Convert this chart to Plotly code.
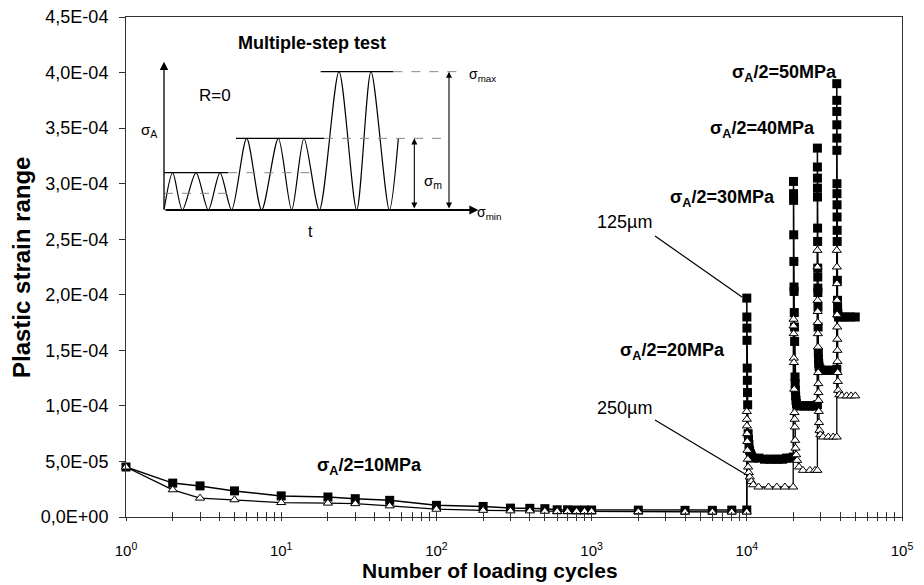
import plotly.graph_objects as go

# ---------------- data: 125 µm (filled squares) ----------------
cyc125_s10 = [1, 2, 3, 5, 10, 20, 30, 50, 100, 200, 300, 400, 500, 600, 700, 800, 900, 1000,
              2000, 4000, 6000, 8000, 10000]
eps125_s10 = [4.5e-5, 3.05e-5, 2.8e-5, 2.35e-5, 1.9e-5, 1.8e-5, 1.65e-5, 1.5e-5, 1.05e-5, 0.95e-5,
              0.8e-5, 0.78e-5, 0.75e-5, 0.65e-5, 0.65e-5, 0.63e-5, 0.63e-5, 0.63e-5,
              0.62e-5, 0.6e-5, 0.6e-5, 0.62e-5, 0.63e-5]
cyc125_s20 = [10000, 10010, 10020, 10030, 10060, 10080, 10100, 10130, 10200, 10260, 10330, 10420,
              10550, 10700, 11000, 12000, 13000, 14000, 15000, 16000, 17000, 18000, 19000, 20000]
eps125_s20 = [1.97e-4, 1.80e-4, 1.70e-4, 1.59e-4, 1.34e-4, 1.23e-4, 1.12e-4, 1.01e-4, 7.5e-5, 7.0e-5,
              6.5e-5, 6.0e-5, 5.7e-5, 5.5e-5, 5.3e-5, 5.3e-5, 5.2e-5, 5.2e-5, 5.2e-5, 5.2e-5,
              5.2e-5, 5.3e-5, 5.3e-5, 5.4e-5]
cyc125_s30 = [20000, 20010, 20020, 20060, 20100, 20150, 20170, 20230, 20280, 20330, 20450, 20500,
              20560, 20640, 20750, 20900, 21500, 22500, 23500, 24500, 25500, 26500, 27500, 28500]
eps125_s30 = [3.02e-4, 2.91e-4, 2.85e-4, 2.54e-4, 2.30e-4, 2.07e-4, 2.03e-4, 1.84e-4, 1.71e-4, 1.58e-4,
              1.26e-4, 1.20e-4, 1.14e-4, 1.09e-4, 1.05e-4, 1.02e-4, 1.0e-4, 1.0e-4, 1.0e-4, 1.0e-4,
              1.0e-4, 1.0e-4, 1.0e-4, 1.01e-4]
cyc125_s40 = [28500, 28510, 28520, 28530, 28540, 28580, 28600, 28640, 28660, 28690, 28710, 28750,
              28800, 28900, 28980, 29080, 29250, 29700, 31000, 32500, 34000, 35500, 37000, 38000]
eps125_s40 = [3.32e-4, 3.15e-4, 3.05e-4, 2.96e-4, 2.88e-4, 2.60e-4, 2.48e-4, 2.24e-4, 2.16e-4, 2.06e-4,
              2.02e-4, 1.89e-4, 1.71e-4, 1.48e-4, 1.42e-4, 1.38e-4, 1.35e-4, 1.33e-4, 1.32e-4, 1.32e-4,
              1.32e-4, 1.32e-4, 1.32e-4, 1.33e-4]
cyc125_s50 = [38000, 38010, 38020, 38030, 38040, 38060, 38100, 38120, 38140, 38170, 38200, 38230,
              38320, 38400, 38480, 38600, 39000, 41000, 43500, 46500, 50000]
eps125_s50 = [3.90e-4, 3.75e-4, 3.65e-4, 3.53e-4, 3.41e-4, 3.30e-4, 3.00e-4, 2.91e-4, 2.81e-4, 2.70e-4,
              2.58e-4, 2.48e-4, 2.13e-4, 1.95e-4, 1.88e-4, 1.83e-4, 1.80e-4, 1.80e-4, 1.80e-4, 1.80e-4,
              1.80e-4]

# ---------------- data: 250 µm (open triangles) ----------------
cyc250_s10 = [1, 2, 3, 5, 10, 20, 30, 50, 100, 200, 300, 400, 500, 600, 700, 800, 900, 1000,
              2000, 4000, 6000, 8000, 10000]
eps250_s10 = [4.5e-5, 2.45e-5, 1.7e-5, 1.55e-5, 1.3e-5, 1.25e-5, 1.2e-5, 1.0e-5, 0.7e-5, 0.6e-5,
              0.55e-5, 0.55e-5, 0.52e-5, 0.5e-5, 0.5e-5, 0.5e-5, 0.5e-5, 0.5e-5,
              0.48e-5, 0.45e-5, 0.45e-5, 0.45e-5, 0.45e-5]
cyc250_s20 = [10000, 10010, 10020, 10040, 10070, 10100, 10150, 10200, 10300, 10450, 10700, 11000,
              11900, 13800, 15600, 17600, 19900]
eps250_s20 = [9.5e-5, 8.8e-5, 8.2e-5, 7.5e-5, 6.8e-5, 6.0e-5, 5.2e-5, 4.5e-5, 4.0e-5, 3.6e-5, 3.2e-5,
              2.9e-5, 2.7e-5, 2.7e-5, 2.7e-5, 2.7e-5, 2.7e-5]
cyc250_s30 = [20000, 20020, 20040, 20100, 20120, 20200, 20300, 20350, 20400, 20500, 20600, 20800,
              21100, 21700, 23000, 25500, 27500, 28500]
eps250_s30 = [1.78e-4, 1.72e-4, 1.65e-4, 1.43e-4, 1.39e-4, 1.15e-4, 9.4e-5, 8.8e-5, 8.1e-5, 6.9e-5,
              6.2e-5, 5.6e-5, 5.1e-5, 4.5e-5, 4.2e-5, 4.2e-5, 4.2e-5, 4.2e-5]
cyc250_s40 = [28500, 28550, 28600, 28630, 28660, 28700, 28750, 28850, 28900, 28950, 29000, 29100,
              29200, 29400, 29800, 31000, 33500, 36000, 38000]
eps250_s40 = [2.40e-4, 2.25e-4, 1.95e-4, 1.85e-4, 1.75e-4, 1.65e-4, 1.53e-4, 1.30e-4, 1.20e-4, 1.12e-4,
              1.05e-4, 9.5e-5, 8.5e-5, 7.8e-5, 7.4e-5, 7.2e-5, 7.2e-5, 7.2e-5, 7.2e-5]
cyc250_s50 = [38000, 38050, 38100, 38150, 38200, 38250, 38300, 38350, 38400, 38500, 38600, 38800,
              39500, 41000, 44000, 47000, 50000]
eps250_s50 = [2.40e-4, 2.25e-4, 2.10e-4, 1.95e-4, 1.82e-4, 1.71e-4, 1.60e-4, 1.50e-4, 1.40e-4, 1.30e-4,
              1.22e-4, 1.14e-4, 1.10e-4, 1.09e-4, 1.09e-4, 1.09e-4, 1.09e-4]

# ---------------- ticks ----------------
x_tickvals = [m * 10 ** d for d in range(5) for m in range(1, 10)] + [100000]
x_ticktext = [("10<sup>%d</sup>" % d if m == 1 else "") for d in range(5) for m in range(1, 10)] + ["10<sup>5</sup>"]
y_tickvals = [0, 5e-5, 1e-4, 1.5e-4, 2e-4, 2.5e-4, 3e-4, 3.5e-4, 4e-4, 4.5e-4]
y_ticktext = ["0,0E+00", "5,0E-05", "1,0E-04", "1,5E-04", "2,0E-04", "2,5E-04",
              "3,0E-04", "3,5E-04", "4,0E-04", "4,5E-04"]

# ---------------- inset schematic (in inset units) ----------------
wave_x = [42, 68, 97, 138, 175, 210, 245, 290, 335, 385, 425, 462, 508, 567, 620, 663, 718, 745]
wave_y = [540, 428, 540, 428, 540, 428, 540, 325, 540, 325, 540, 325, 540, 125, 540, 125, 540, 325]

FONT = "Liberation Sans, Arial, sans-serif"
OFF = 8  # page body margin of the html page

cyc125 = cyc125_s10 + cyc125_s20 + cyc125_s30 + cyc125_s40 + cyc125_s50
eps125 = eps125_s10 + eps125_s20 + eps125_s30 + eps125_s40 + eps125_s50
cyc250 = cyc250_s10 + cyc250_s20 + cyc250_s30 + cyc250_s40 + cyc250_s50
eps250 = eps250_s10 + eps250_s20 + eps250_s30 + eps250_s40 + eps250_s50

fig = go.Figure()
fig.add_trace(go.Scatter(x=cyc125, y=eps125, mode="lines+markers", name="125µm",
                         line=dict(color="black", width=1.5),
                         marker=dict(symbol="square", size=9, color="black"),
                         cliponaxis=False))
fig.add_trace(go.Scatter(x=cyc250, y=eps250, mode="lines+markers", name="250µm",
                         line=dict(color="black", width=1.3),
                         marker=dict(symbol="triangle-up", size=8, color="white",
                                     line=dict(color="black", width=1)),
                         cliponaxis=False))

# inset waveform and level lines
fig.add_trace(go.Scatter(x=wave_x, y=wave_y, mode="lines", xaxis="x2", yaxis="y2",
                         line=dict(color="black", width=1.2, shape="spline", smoothing=0.8),
                         hoverinfo="skip"))

solid_lines = [((42, 235), 428), ((258, 522), 325), ((512, 730), 125)]
dashed_lines = [((235, 505), 428), ((42, 245), 490), ((522, 885), 325), ((730, 930), 125)]
for (x0, x1), yv in solid_lines:
    fig.add_trace(go.Scatter(x=[x0, x1], y=[yv, yv], mode="lines", xaxis="x2", yaxis="y2",
                             line=dict(color="black", width=1.2), hoverinfo="skip"))
for (x0, x1), yv in dashed_lines:
    fig.add_trace(go.Scatter(x=[x0, x1], y=[yv, yv], mode="lines", xaxis="x2", yaxis="y2",
                             line=dict(color="#888", width=1, dash="dash"), hoverinfo="skip"))

ann = []
def arrow(x, y, ax, ay, both=False, width=1.2, size=1.0):
    d = dict(x=x, y=y, ax=ax, ay=ay, xref="x2", yref="y2", axref="x2", ayref="y2",
             text="", showarrow=True, arrowhead=2, arrowsize=size, arrowwidth=width,
             arrowcolor="black")
    if both:
        d.update(arrowside="end+start", startarrowhead=2, startarrowsize=size)
    ann.append(d)

arrow(42, 95, 42, 541, width=1.3, size=1.3)
arrow(985, 540, 42, 540, width=1.8, size=1.0)
arrow(793, 325, 793, 540, both=True, width=1.1, size=1.1)
arrow(897, 125, 897, 540, both=True, width=1.1, size=1.1)

def itext(txt, x, y, size=13, bold=False, xanchor="center"):
    ann.append(dict(text=("<b>%s</b>" % txt) if bold else txt, x=x, y=y, xref="x2", yref="y2",
                    showarrow=False, xanchor=xanchor, yanchor="middle",
                    font=dict(family=FONT, size=size, color="black")))

itext("Multiple-step test", 485, 38, size=18, bold=True)
itext("R=0", 195, 195, size=17)
itext("σ<sub>m</sub>", 850, 455, size=15)
itext("σ<sub>max</sub>", 950, 135, size=14, xanchor="left")
itext("σ<sub>min</sub>", 975, 550, size=14, xanchor="left")
itext("t", 480, 605, size=16)

def px(xpix):
    return (xpix - 126) / 776.0
def py(ypix):
    return (517 - ypix) / 500.0

def ptext(txt, xp, yp, size=16, bold=False, angle=0):
    ann.append(dict(text=("<b>%s</b>" % txt) if bold else txt, x=px(xp), y=py(yp),
                    xref="paper", yref="paper", showarrow=False, xanchor="center", yanchor="middle",
                    textangle=angle, font=dict(family=FONT, size=size, color="black")))

ptext("σ<sub>A</sub>", 149, 131, size=15)
ptext("σ<sub>A</sub>/2=10MPa", 369, 466, size=18, bold=True)
ptext("σ<sub>A</sub>/2=20MPa", 672, 352, size=18, bold=True)
ptext("σ<sub>A</sub>/2=30MPa", 722, 198, size=18, bold=True)
ptext("σ<sub>A</sub>/2=40MPa", 762, 130, size=18, bold=True)
ptext("σ<sub>A</sub>/2=50MPa", 784, 73, size=18, bold=True)
ptext("125µm", 624, 222, size=18)
ptext("250µm", 624, 408, size=18)

# axis titles
ptext("Plastic strain range", 21, 268, size=24, bold=True, angle=-90)
ptext("Number of loading cycles", 490, 570, size=21, bold=True)

shapes = [
    dict(type="line", xref="paper", yref="paper", x0=px(655), y0=py(236), x1=px(742), y1=py(297),
         line=dict(color="black", width=1.2)),
    dict(type="line", xref="paper", yref="paper", x0=px(655), y0=py(420), x1=px(745), y1=py(474),
         line=dict(color="black", width=1.2)),
]

fig.update_layout(
    width=924 - OFF, height=585 - OFF,
    margin=dict(l=126 - OFF, r=22, t=17 - OFF, b=68, autoexpand=False),
    paper_bgcolor="white", plot_bgcolor="white",
    showlegend=False,
    font=dict(family=FONT, size=16, color="black"),
    annotations=ann, shapes=shapes,
    xaxis=dict(type="log", range=[0, 5], tickvals=x_tickvals, ticktext=x_ticktext,
               ticks="inside", ticklen=5, tickwidth=1, tickcolor="#333",
               showline=True, linecolor="#333", linewidth=1, mirror=True,
               showgrid=False, zeroline=False, ticklabelstandoff=20,
               ticklabeloverflow="allow", automargin=False,
               tickfont=dict(family=FONT, size=15, color="black")),
    xaxis3=dict(type="log", range=[0, 5], tickvals=x_tickvals, ticktext=["" for _ in x_tickvals],
                ticks="outside", ticklen=3, tickwidth=1, tickcolor="#333", automargin=False,
                overlaying="x", showline=False, showgrid=False, zeroline=False),
    yaxis=dict(range=[0, 4.5e-4], tickvals=y_tickvals, ticktext=y_ticktext,
               ticks="outside", ticklen=6, tickwidth=1, tickcolor="#333",
               showline=True, linecolor="#333", linewidth=1, mirror=True,
               showgrid=False, zeroline=False, ticklabelstandoff=7,
               ticklabeloverflow="allow", automargin=False,
               tickfont=dict(family=FONT, size=18, color="black")),
    xaxis2=dict(domain=[px(150), px(480)], range=[0, 990], visible=False, anchor="y2"),
    yaxis2=dict(domain=[py(240), py(30)], range=[630, 0], visible=False, anchor="x2"),
)
# dummy trace to activate the overlay tick axis
fig.add_trace(go.Scatter(x=[1], y=[0], xaxis="x3", mode="markers",
                         marker=dict(opacity=0), hoverinfo="skip"))

fig.write_html("out.html")
